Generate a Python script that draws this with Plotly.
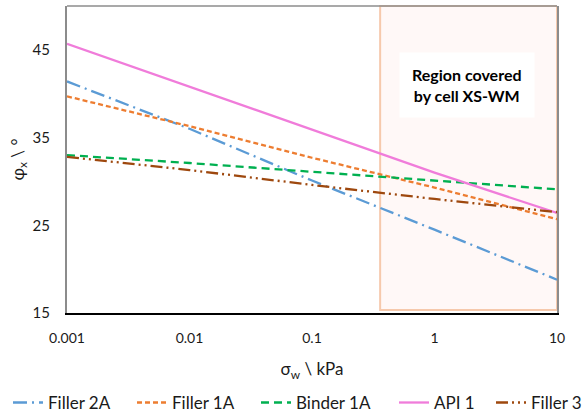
import plotly.graph_objects as go

# ---- data ----
sigma_w = [0.001, 0.01, 0.1, 1, 10]
filler_2a = [41.4, 36.0, 30.1, 24.5, 18.8]
filler_1a = [39.7, 36.3, 32.7, 29.3, 25.7]
binder_1a = [33.0, 32.1, 31.1, 30.1, 29.1]
api_1 = [45.7, 40.8, 35.9, 31.0, 26.4]
filler_3 = [32.8, 31.3, 29.6, 28.0, 26.5]

series_names = ["Filler 2A", "Filler 1A", "Binder 1A", "API 1", "Filler 3"]
series_values = [filler_2a, filler_1a, binder_1a, api_1, filler_3]
series_colors = ["#5B9BD5", "#ED7D31", "#00B050", "#F07CDA", "#9E480E"]
series_dashes = ["14px,5px,2px,5px", "5px,3px", "8px,5px", "solid",
                 "12px,4px,2px,4px,2px,4px"]

region_start = 0.36
region_end = 10
region_label = "Region covered<br>by cell XS-WM"

x_ticks = [0.001, 0.01, 0.1, 1, 10]
x_tick_text = ["0.001", "0.01", "0.1", "1", "10"]
y_ticks = [15, 25, 35, 45]

FONT = "Lato"
TXT = "#1a1a1a"

# layout geometry
W, H = 585, 412
ML, MR, MT, MB = 67, 28, 6, 99
PW = W - ML - MR
legend_px = [8, 132, 256, 394, 491]   # left edge of each legend entry, in px

fig = go.Figure()

legend_ids = ["legend", "legend2", "legend3", "legend4", "legend5"]
for name, vals, col, dash, lid in zip(series_names, series_values, series_colors,
                                      series_dashes, legend_ids):
    fig.add_trace(go.Scatter(
        x=sigma_w, y=vals, mode="lines", name=name, legend=lid,
        line=dict(color=col, width=2.3, dash=dash),
    ))

# region rectangle
fig.add_shape(type="rect", xref="x", yref="y domain",
              x0=region_start, x1=region_end, y0=0.01, y1=1,
              fillcolor="#FFF8F7", line=dict(color="#F6C9AC", width=2),
              layer="below")
# top border of plot area
fig.add_shape(type="line", xref="paper", yref="paper", x0=0, x1=1, y0=1, y1=1,
              line=dict(color="#8C8C8C", width=1.5), layer="below")

fig.add_annotation(text="<b>" + region_label + "</b>", xref="paper", yref="paper",
                   x=0.816, y=0.743, xanchor="center", yanchor="middle", showarrow=False,
                   font=dict(family=FONT, size=16, color="black"),
                   bgcolor="white", borderpad=12, align="center")

legend_common = dict(orientation="h", xanchor="left", y=-0.293, yanchor="middle",
                     font=dict(family=FONT, size=17, color=TXT), itemwidth=30,
                     bgcolor="rgba(0,0,0,0)")
legends = {}
for lid, px in zip(legend_ids, legend_px):
    legends[lid] = dict(legend_common, x=(px - ML) / PW)

fig.update_layout(
    width=W, height=H,
    margin=dict(l=ML, r=MR, t=MT, b=MB, autoexpand=False),
    paper_bgcolor="white", plot_bgcolor="white",
    font=dict(family=FONT, size=14, color=TXT),
    showlegend=True,
    xaxis=dict(type="log", range=[-3, 1], tickvals=x_ticks, ticktext=x_tick_text,
               showgrid=False, zeroline=False, showline=True, linecolor="black",
               linewidth=1.5, ticks="", ticklabelstandoff=11,
               tickfont=dict(family=FONT, size=14, color=TXT),
               title=dict(text="σ<sub>w</sub> \\ kPa", font=dict(family=FONT, size=17, color=TXT),
                          standoff=19)),
    yaxis=dict(range=[15, 50], tickvals=y_ticks, showgrid=False, zeroline=False,
               showline=True, linecolor="#8C8C8C", linewidth=2, mirror=True,
               ticks="", ticklabelstandoff=12,
               tickfont=dict(family=FONT, size=15, color=TXT),
               title=dict(text="φ<sub>x</sub> \\ °", font=dict(family=FONT, size=17, color=TXT),
                          standoff=4)),
    **legends,
)

fig.write_html("out.html", config={"displayModeBar": False},
               post_script="document.body.style.margin='0';")
